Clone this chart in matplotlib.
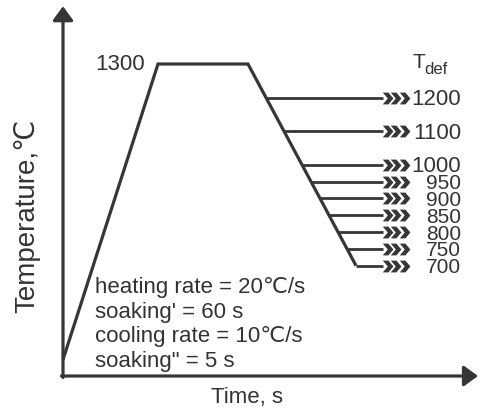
import numpy as np
import matplotlib
matplotlib.use('Agg')
import matplotlib.pyplot as plt
from matplotlib.path import Path

plt.rcParams['font.family'] = ['Liberation Sans', 'DejaVu Sans']

# thermal cycle (schematic time units, temperature in C)
profile_time = [0, 95, 185, 293]
profile_temp = [420, 1300, 1300, 700]
t_def = [1200, 1100, 1000, 950, 900, 850, 800, 750, 700]
t_def_labels = ['1200', '1100', '1000', '950', '900', '850', '800', '750', '700']
notes = ["heating rate = 20\u2103/s",
         "soaking' = 60 s",
         "cooling rate = 10\u2103/s",
         'soaking" = 5 s']

W, H = 481, 410
col = '#363636'
tcol = '#333333'

fig = plt.figure(figsize=(W / 100, H / 100), dpi=100)
ax = fig.add_axes([0, 0, 1, 1])
ax.set_xlim(-63, 418)
ax.set_ylim(273.2, 1493.5)
ax.axis('off')

# axes with arrows
t0, T0 = -1.5, 367.0
ax.annotate('', xy=(0, 1472), xytext=(0, T0),
            arrowprops=dict(arrowstyle='-|>,head_length=0.85,head_width=0.62',
                            lw=2.3, color=col, shrinkA=0, shrinkB=0, mutation_scale=10))
ax.annotate('', xy=(415, 371.4), xytext=(t0, 371.4),
            arrowprops=dict(arrowstyle='-|>,head_length=0.85,head_width=0.62',
                            lw=2.3, color=col, shrinkA=0, shrinkB=0, mutation_scale=10))

# heating / soaking / cooling
ax.plot(profile_time, profile_temp, color=col, lw=2.3,
        solid_joinstyle='miter', solid_capstyle='butt')

# deformation temperatures
cool_t = np.interp(t_def, profile_temp[:1:-1], profile_time[:1:-1])
chev = Path([(-0.8, 1), (0.15, 1), (1, 0), (0.15, -1), (-0.8, -1), (0.05, 0), (-0.8, 1)],
            [Path.MOVETO] + [Path.LINETO] * 5 + [Path.CLOSEPOLY])
t_end = 320
for ct, T, lab in zip(cool_t, t_def, t_def_labels):
    ax.plot([ct, t_end], [T, T], color=col, lw=2.0, solid_capstyle='butt')
    ax.plot([324, 332.5, 341], [T] * 3, ls='none', marker=chev,
            markersize=8.5, color=col, markeredgewidth=0)
    fs = 16 if T >= 1000 else 15
    ax.annotate(lab, xy=(398, T), xytext=(0, -4.7), textcoords='offset points',
                ha='right', va='baseline', fontsize=fs, color=tcol)


def fx(x):
    return x / W


def fy(y):
    return 1 - y / H


fig.text(fx(145), fy(70), '1300', ha='right', va='baseline', fontsize=16, color=tcol)
fig.text(fx(413), fy(68), 'T', ha='left', va='baseline', fontsize=15, color=tcol)
fig.text(fx(424), fy(74), 'def', ha='left', va='baseline', fontsize=12, color=tcol)

for i, s in enumerate(notes):
    fig.text(fx(95), fy(293 + 24.7 * i), s, ha='left', va='baseline',
             fontsize=16, color=tcol)

fig.text(fx(247), fy(403), 'Time, s', ha='center', va='baseline', fontsize=16, color=tcol)
fig.text(fx(27), fy(216), 'Temperature,\u2103', ha='center', va='center',
         rotation=90, fontsize=20, color=tcol)

plt.savefig('out.png', dpi=100)
